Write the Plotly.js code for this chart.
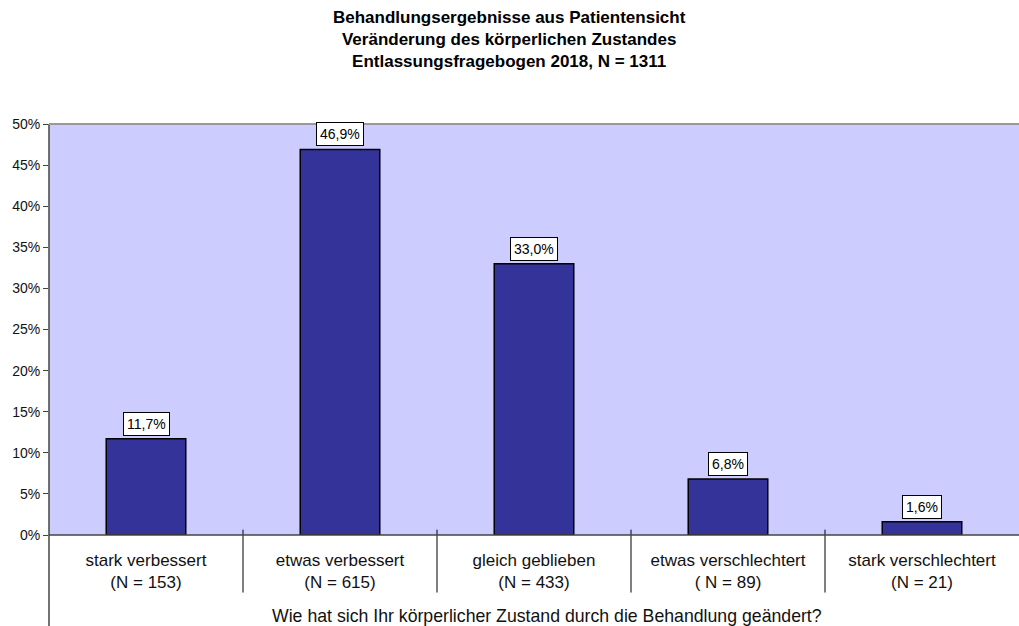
<!DOCTYPE html>
<html>
<head>
<meta charset="utf-8">
<script src="https://cdn.plot.ly/plotly-3.0.1.min.js"></script>
<style>html,body{margin:0;padding:0;background:#fff;}</style>
</head>
<body>
<div id="chart" style="width:1019px;height:626px;"></div>
<script>
const categories = ["stark verbessert", "etwas verbessert", "gleich geblieben", "etwas verschlechtert", "stark verschlechtert"];
const counts = ["(N = 153)", "(N = 615)", "(N = 433)", "( N = 89)", "(N = 21)"];
const shares = [11.7, 46.9, 33.0, 6.8, 1.6];
const titleLines = ["Behandlungsergebnisse aus Patientensicht", "Veränderung des körperlichen Zustandes", "Entlassungsfragebogen 2018, N = 1311"];
const xTitle = "Wie hat sich Ihr körperlicher Zustand durch die Behandlung geändert?";

const FONT = "Liberation Sans, Arial, Helvetica, sans-serif";
const xIdx = categories.map((c, i) => i);
const yVals = shares.map(v => v / 100);
const tickText = categories.map((c, i) => c + "<br>" + counts[i]);

const trace = {
  type: "bar",
  x: xIdx,
  y: yVals,
  width: 0.41,
  marker: {color: "#333399", line: {color: "#000000", width: 1.5}},
  hoverinfo: "none"
};

const annotations = shares.map((v, i) => ({
  x: i, y: v / 100, xref: "x", yref: "y",
  text: v.toFixed(1).replace(".", ",") + "%",
  showarrow: false, yanchor: "bottom", yshift: 3,
  bgcolor: "#ffffff", bordercolor: "#000000", borderwidth: 1, borderpad: 3,
  font: {family: FONT, size: 14, color: "#000"}
}));

// title block (centred on the page)
annotations.push({
  xref: "paper", yref: "paper", x: 0.4747, y: 1.2044,
  xanchor: "center", yanchor: "middle", showarrow: false,
  text: "<b>" + titleLines.join("<br>") + "</b>",
  font: {family: FONT, size: 17, color: "#000"}
});

// x-axis title
annotations.push({
  xref: "paper", yref: "paper", x: 0.513, y: -0.196,
  xanchor: "center", yanchor: "middle", showarrow: false,
  text: xTitle,
  font: {family: FONT, size: 17.7, color: "#111"}
});

const shapes = [];
for (let i = 1; i < categories.length; i++) {
  shapes.push({type: "line", xref: "x", yref: "paper", x0: i - 0.5, x1: i - 0.5, y0: 0.013, y1: -0.14,
    line: {color: "#000000", width: 1}});
}
shapes.push({type: "line", xref: "paper", yref: "paper", x0: 0, x1: 0, y0: 1, y1: -0.23,
  line: {color: "#444444", width: 1.5}});
shapes.push({type: "line", xref: "paper", yref: "paper", x0: 0, x1: 1, y0: 1, y1: 1,
  line: {color: "#999999", width: 2}});
shapes.push({type: "line", xref: "paper", yref: "paper", x0: 0, x1: 1, y0: 0, y1: 0,
  line: {color: "#444444", width: 1.5}});

const layout = {
  width: 1019, height: 626,
  margin: {l: 49, r: 0, t: 124, b: 91},
  paper_bgcolor: "#ffffff",
  plot_bgcolor: "#ccccff",
  font: {family: FONT, color: "#000"},
  xaxis: {
    range: [-0.5, 4.5],
    tickvals: xIdx, ticktext: tickText,
    showgrid: false, zeroline: false, showline: false, ticks: "",
    tickfont: {size: 17, color: "#111"},
    ticklabelstandoff: 13
  },
  yaxis: {
    range: [0, 0.5], dtick: 0.05, tickformat: ".0%",
    showgrid: false, zeroline: false, showline: false,
    ticks: "outside", ticklen: 5, tickcolor: "#444", tickwidth: 1,
    tickfont: {size: 14, color: "#111"}
  },
  showlegend: false,
  annotations: annotations,
  shapes: shapes
};

Plotly.newPlot("chart", [trace], layout, {displayModeBar: false, staticPlot: true});
</script>
</body>
</html>
